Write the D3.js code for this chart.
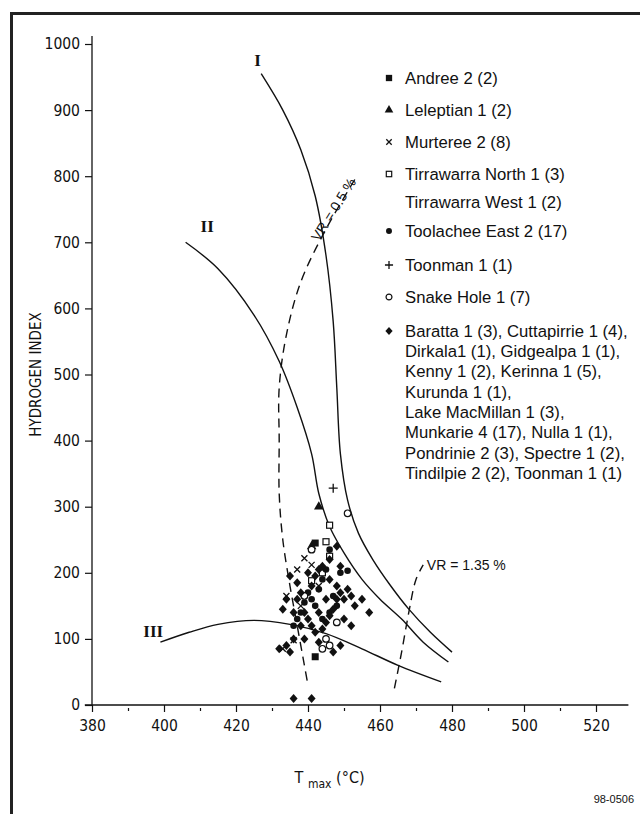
<!DOCTYPE html>
<html>
<head>
<meta charset="utf-8">
<script src="https://cdn.jsdelivr.net/npm/d3@7"></script>
<style>
  body { margin: 0; background: #fff; }
  svg { display: block; }
  .tick text { font-family: "Liberation Sans Narrow", "DejaVu Sans Condensed", "Liberation Sans", sans-serif; font-size: 15.5px; fill: #111; }
  .legend text { font-family: "Liberation Sans", Arial, sans-serif; font-size: 16.7px; fill: #111; }
  .roman { font-family: "Liberation Serif", "DejaVu Serif", serif; font-weight: bold; font-size: 17px; fill: #111; }
</style>
</head>
<body>
<svg id="chart"></svg>
<script>
// ---- data (Tmax in degC, hydrogen index) ----
const andree = [[442, 73], [442, 245]];
const leleptian = [[443, 300], [441, 240]];
const murteree = [[433, 85], [439, 222], [441, 212], [437, 205], [434, 165], [443, 180], [438, 150], [436, 98]];
const tirrawarraNorth = [[446, 272], [445, 247], [446, 225]];
const tirrawarraWest = [[441, 188], [444, 200]];
const toolacheeEast = [[436, 120], [437, 130], [438, 140], [439, 155], [440, 170], [441, 160], [442, 150], [443, 175],
  [444, 190], [445, 205], [446, 235], [447, 165], [448, 150], [449, 200], [451, 203], [444, 130], [446, 140]];
const toonman = [[447, 328]];
const snakeHole = [[451, 290], [441, 235], [439, 165], [445, 100], [446, 90], [444, 85], [448, 125]];
const otherWells = [[436, 10], [441, 10], [432, 85], [434, 90], [435, 80], [436, 100], [433, 145], [434, 160],
  [435, 195], [437, 185], [438, 170], [439, 140], [440, 130], [441, 120], [442, 110], [443, 95], [444, 115],
  [445, 125], [446, 135], [447, 145], [448, 160], [449, 170], [450, 160], [451, 175], [452, 165], [453, 150],
  [455, 160], [457, 140], [440, 200], [442, 195], [444, 210], [446, 220], [448, 180], [445, 160], [443, 140],
  [441, 180], [439, 100], [438, 120], [436, 140], [447, 80], [449, 90], [450, 130], [452, 120], [437, 160],
  [443, 205], [446, 190], [449, 210], [448, 240]];

// kerogen type boundary curves and vitrinite reflectance lines
const curveI = [[427, 955], [433, 900], [438, 840], [442, 770], [445, 680], [447, 580], [448, 480], [449, 380],
  [451, 310], [454, 260], [458, 220], [463, 180], [468, 145], [474, 110], [480, 80]];
const curveII = [[406, 700], [415, 660], [425, 590], [432, 520], [437, 450], [441, 380], [443, 320], [446, 270],
  [450, 230], [455, 190], [460, 160], [466, 130], [472, 95], [479, 65]];
const curveIII = [[399, 95], [407, 110], [415, 122], [425, 128], [435, 122], [445, 108], [455, 85], [465, 60], [477, 35]];
const vr05 = [[453, 795], [445, 720], [438, 640], [434, 560], [432, 480], [432, 400], [432, 320], [433, 250],
  [435, 180], [437, 120], [439, 60], [440, 30]];
const vr135 = [[464, 25], [466, 80], [468, 140], [470, 190], [472, 212]];

const xMajor = [380, 400, 420, 440, 460, 480, 500, 520];
const xMinor = [390, 410, 430, 450, 470, 490, 510];
const yMajor = [0, 100, 200, 300, 400, 500, 600, 700, 800, 900, 1000];

const legendItems = [
  { sym: "square", lines: ["Andree 2 (2)"], data: andree },
  { sym: "triangle", lines: ["Leleptian 1 (2)"], data: leleptian },
  { sym: "cross", lines: ["Murteree 2 (8)"], data: murteree },
  { sym: "squareOpen", lines: ["Tirrawarra North 1 (3)"], data: tirrawarraNorth },
  { sym: null, lines: ["Tirrawarra West 1 (2)"], data: tirrawarraWest },
  { sym: "dot", lines: ["Toolachee East 2 (17)"], data: toolacheeEast },
  { sym: "plus", lines: ["Toonman 1 (1)"], data: toonman },
  { sym: "circleOpen", lines: ["Snake Hole 1 (7)"], data: snakeHole },
  { sym: "diamond", lines: ["Baratta 1 (3), Cuttapirrie 1 (4),", "Dirkala1 (1), Gidgealpa 1 (1),",
    "Kenny 1 (2), Kerinna 1 (5),", "Kurunda 1 (1),", "Lake MacMillan 1 (3),", "Munkarie 4 (17), Nulla 1 (1),",
    "Pondrinie 2 (3), Spectre 1 (2),", "Tindilpie 2 (2), Toonman 1 (1)"], data: otherWells }
];
// Tirrawarra West shares the open square symbol
const pointSym = d => d.sym || "squareOpen";

const W = 640, H = 814;
const svg = d3.select("#chart").attr("width", W).attr("height", H);

const x = d3.scaleLinear().domain([380, 520]).range([92, 596]);
const y = d3.scaleLinear().domain([0, 1000]).range([705, 44]);

// frame
svg.append("path").attr("d", `M11.5,${H} V13.5 H${W}`).attr("fill", "none").attr("stroke", "#222").attr("stroke-width", 3);

// axes
const xAxisG = svg.append("g").attr("transform", `translate(0,${y(0)})`);
xAxisG.call(d3.axisBottom(x).tickValues(xMajor).tickSize(7).tickPadding(8).tickFormat(d3.format("d")))
  .call(g => g.select(".domain").remove());
svg.append("g").attr("transform", `translate(0,${y(0) + 3})`)
  .call(d3.axisBottom(x).tickValues(xMinor).tickSize(3).tickFormat(""))
  .call(g => g.select(".domain").remove());
svg.append("line").attr("x1", x(378)).attr("x2", x(529)).attr("y1", y(0)).attr("y2", y(0))
  .attr("stroke", "#111").attr("stroke-width", 1.3);

const yAxisG = svg.append("g").attr("transform", `translate(${x(380)},0)`);
yAxisG.call(d3.axisLeft(y).tickValues(yMajor).tickSize(7).tickPadding(5).tickFormat(d3.format("d")))
  .call(g => g.select(".domain").remove());
svg.append("line").attr("x1", x(380)).attr("x2", x(380)).attr("y1", y(0)).attr("y2", y(1012))
  .attr("stroke", "#111").attr("stroke-width", 1.3);
svg.selectAll(".tick line").attr("stroke", "#111").attr("stroke-width", 1.2);

// axis titles
svg.append("text").attr("transform", `translate(36,${y(500)}) rotate(-90)`).attr("text-anchor", "middle")
  .attr("dy", "0.35em").style("font-family", '"Liberation Sans Narrow", "DejaVu Sans Condensed", sans-serif')
  .style("font-size", "15px").attr("fill", "#111").text("HYDROGEN  INDEX");
const xt = svg.append("text").attr("x", x(446)).attr("y", 783).attr("text-anchor", "middle")
  .style("font-family", '"Liberation Sans Narrow", "DejaVu Sans Condensed", sans-serif').style("font-size", "16px").attr("fill", "#111");
xt.append("tspan").text("T ");
xt.append("tspan").attr("dy", 5).style("font-size", "12px").text("max");
xt.append("tspan").attr("dy", -5).text(" (°C)");

svg.append("text").attr("x", 634).attr("y", 803).attr("text-anchor", "end")
  .style("font-family", '"Liberation Sans", Arial, sans-serif').style("font-size", "11px").attr("fill", "#111").text("98-0506");

// curves
const line = d3.line().x(d => x(d[0])).y(d => y(d[1])).curve(d3.curveCatmullRom.alpha(0.5));
const curveG = svg.append("g").attr("fill", "none").attr("stroke", "#111").attr("stroke-width", 1.4);
[curveI, curveII, curveIII].forEach(c => curveG.append("path").attr("d", line(c)));
[vr05, vr135].forEach(c => curveG.append("path").attr("d", line(c)).attr("stroke-dasharray", "9,6"));

svg.append("text").attr("class", "roman").attr("x", x(426)).attr("y", y(975)).attr("text-anchor", "middle").attr("dy", "0.35em").text("I");
svg.append("text").attr("class", "roman").attr("x", x(412)).attr("y", y(725)).attr("text-anchor", "middle").attr("dy", "0.35em").text("II");
svg.append("text").attr("class", "roman").attr("x", x(397)).attr("y", y(112)).attr("text-anchor", "middle").attr("dy", "0.35em").text("III");

const lblFont = '"Liberation Sans", Arial, sans-serif';
svg.append("text").attr("transform", `translate(${x(443)},${y(700)}) rotate(-58)`)
  .style("font-family", lblFont).style("font-size", "14px").attr("fill", "#111").text("VR = 0.5 %");
svg.append("text").attr("x", x(473)).attr("y", y(212)).attr("dy", "0.35em")
  .style("font-family", lblFont).style("font-size", "14px").attr("fill", "#111").text("VR = 1.35 %");

// symbols
function drawSym(g, sym, s) {
  s = s || 1;
  if (sym === "square") g.append("rect").attr("x", -3.5 * s).attr("y", -3.5 * s).attr("width", 7 * s).attr("height", 7 * s).attr("fill", "#111");
  else if (sym === "squareOpen") g.append("rect").attr("x", -3 * s).attr("y", -3 * s).attr("width", 6 * s).attr("height", 6 * s).attr("fill", "#fff").attr("stroke", "#111").attr("stroke-width", 1.2);
  else if (sym === "triangle") g.append("path").attr("d", d3.symbol(d3.symbolTriangle, 40 * s * s)()).attr("fill", "#111");
  else if (sym === "cross") g.append("path").attr("d", `M${-3 * s},${-3 * s}L${3 * s},${3 * s}M${-3 * s},${3 * s}L${3 * s},${-3 * s}`).attr("stroke", "#111").attr("stroke-width", 1.3);
  else if (sym === "plus") g.append("path").attr("d", `M${-4.5 * s},0H${4.5 * s}M0,${-4.5 * s}V${4.5 * s}`).attr("stroke", "#111").attr("stroke-width", 1.3);
  else if (sym === "dot") g.append("circle").attr("r", 3.3 * s).attr("fill", "#111");
  else if (sym === "circleOpen") g.append("circle").attr("r", 3.3 * s).attr("fill", "#fff").attr("stroke", "#111").attr("stroke-width", 1.2);
  else if (sym === "diamond") g.append("path").attr("d", `M0,${-4.5 * s}L${4 * s},0L0,${4.5 * s}L${-4 * s},0Z`).attr("fill", "#111");
}

const ptsG = svg.append("g");
legendItems.forEach(item => {
  ptsG.selectAll(null).data(item.data).join("g")
    .attr("transform", d => `translate(${x(d[0])},${y(d[1])})`)
    .each(function () { drawSym(d3.select(this), pointSym(item)); });
});

// legend
const legendRows = [78, 110, 142, 174, 202, 231, 265, 297, 331];
const legend = svg.append("g").attr("class", "legend");
legendItems.forEach((item, i) => {
  const g = legend.append("g").attr("transform", `translate(389,${legendRows[i]})`);
  if (item.sym) drawSym(g, item.sym, 0.9);
  item.lines.forEach((t, j) => g.append("text").attr("x", 16).attr("y", j * 20.3).attr("dy", "0.35em").text(t));
});
</script>
</body>
</html>
